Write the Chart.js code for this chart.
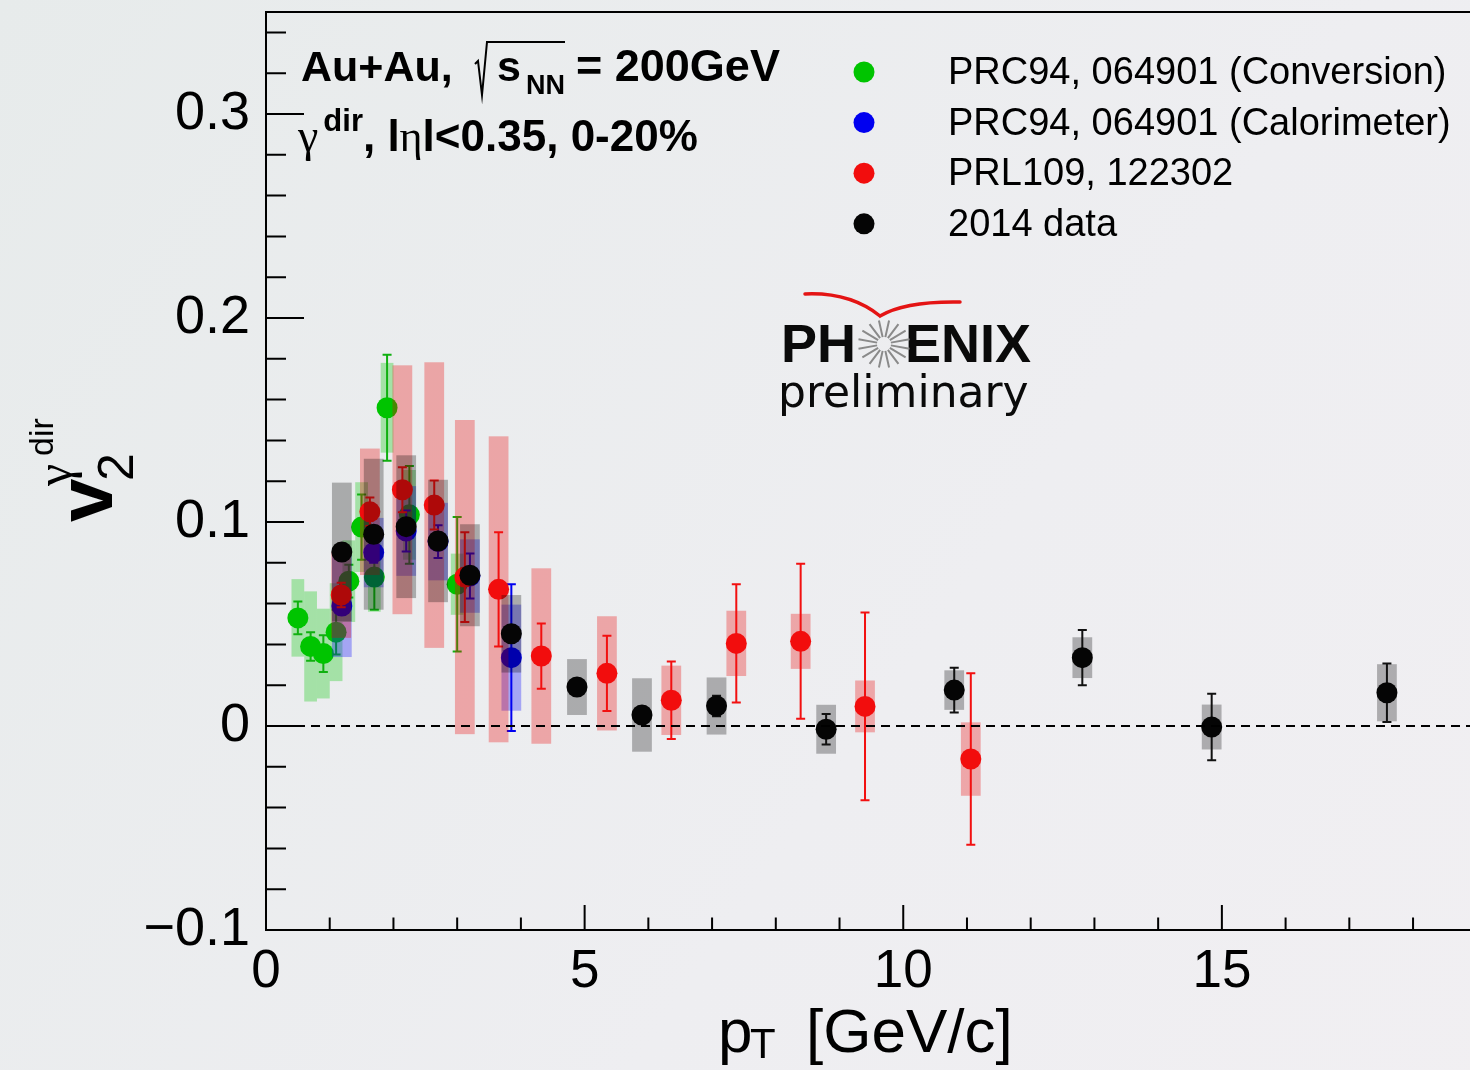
<!DOCTYPE HTML>
<html>
<head>
<meta charset="utf-8">
<script src="https://cdn.jsdelivr.net/npm/chart.js@4.4.1/dist/chart.umd.min.js"></script>
<style>
body { margin: 0; background: #eceef0; }
#wrap { width: 1470px; height: 1070px; overflow: hidden; }
</style>
</head>
<body>
<div id="wrap">
<canvas id="myChart" width="1551" height="1070"></canvas>
</div>
<script>

// direct photon v2, Au+Au 200 GeV, 0-20%
// PRC94, 064901 (Conversion)
var convPt   = [0.5, 0.7, 0.9, 1.1, 1.3, 1.5, 1.7, 1.9, 2.25, 3.0];
var convV2   = [0.053, 0.039, 0.0355, 0.046, 0.071, 0.0975, 0.073, 0.156, 0.1035, 0.0695];
var convStat = [0.008, 0.007, 0.009, 0.011, 0.008, 0.016, 0.016, 0.026, 0.024, 0.033];
var convSys  = [0.019, 0.027, 0.022, 0.024, 0.020, 0.022, 0.017, 0.022, 0.022, 0.015];

// PRC94, 064901 (Calorimeter)
var caloPt   = [1.19, 1.69, 2.2, 2.7, 3.2, 3.85];
var caloV2   = [0.0588, 0.085, 0.0956, 0.0904, 0.0735, 0.0335];
var caloStat = [0.004, 0.005, 0.010, 0.008, 0.011, 0.036];
var caloSys  = [0.025, 0.017, 0.022, 0.019, 0.018, 0.026];

// PRL109, 122302
var prlPt   = [1.18, 1.63, 2.14, 2.64, 3.12, 3.65, 4.32, 5.35, 6.36, 7.38, 8.39, 9.40, 11.06];
var prlV2   = [0.0642, 0.105, 0.1158, 0.1083, 0.073, 0.067, 0.0343, 0.0258, 0.0126, 0.0405, 0.0415, 0.0096, -0.0162];
var prlStat = [0.006, 0.007, 0.011, 0.012, 0.022, 0.028, 0.016, 0.0185, 0.019, 0.029, 0.038, 0.046, 0.042];
var prlSys  = [0.021, 0.031, 0.061, 0.070, 0.077, 0.075, 0.043, 0.028, 0.017, 0.016, 0.0135, 0.0127, 0.018];

// 2014 data
var run14Pt   = [1.19, 1.69, 2.2, 2.7, 3.2, 3.85, 4.88, 5.9, 7.07, 8.79, 10.80, 12.81, 14.84, 17.59];
var run14V2   = [0.0853, 0.094, 0.0977, 0.0907, 0.0739, 0.0452, 0.0191, 0.0054, 0.0098, -0.0016, 0.0176, 0.0335, -0.0005, 0.0163];
var run14Stat = [0.004, 0.004, 0.004, 0.004, 0.004, 0.004, 0.004, 0.004, 0.005, 0.0075, 0.011, 0.0135, 0.0163, 0.0143];
var run14Sys  = [0.034, 0.037, 0.035, 0.030, 0.025, 0.019, 0.0137, 0.018, 0.014, 0.012, 0.0097, 0.010, 0.011, 0.014];

var xTicks = [0, 5, 10, 15];
var yTicks = [-0.1, 0, 0.1, 0.2, 0.3];

function points(xs, ys, stat, sys) {
	var out = [];
	for (var i = 0; i < xs.length; i++) {
		out.push({x: xs[i], y: ys[i], stat: stat[i], sys: sys[i]});
	}
	return out;
}

var FONT = '"Liberation Sans", Arial, Helvetica, sans-serif';

// sys boxes + stat bars, drawn right before each dataset's markers
var errorPlugin = {
	id: 'errorPlugin',
	beforeDatasetDraw: function(chart, args) {
		var ds = chart.data.datasets[args.index];
		var xs = chart.scales.x, ys = chart.scales.y;
		var ctx = chart.ctx;
		ctx.save();
		ctx.fillStyle = ds.boxColor;
		ds.data.forEach(function(p) {
			var x0 = xs.getPixelForValue(p.x - ds.boxHalf);
			var x1 = xs.getPixelForValue(p.x + ds.boxHalf);
			var y0 = ys.getPixelForValue(p.y + p.sys);
			var y1 = ys.getPixelForValue(p.y - p.sys);
			ctx.fillRect(x0, y0, x1 - x0, y1 - y0);
		});
		ctx.strokeStyle = ds.barColor;
		ctx.lineWidth = 2;
		ds.data.forEach(function(p) {
			var x = xs.getPixelForValue(p.x);
			var y0 = ys.getPixelForValue(p.y + p.stat);
			var y1 = ys.getPixelForValue(p.y - p.stat);
			ctx.beginPath();
			ctx.moveTo(x, y0); ctx.lineTo(x, y1);
			ctx.moveTo(x - 4.5, y0); ctx.lineTo(x + 4.5, y0);
			ctx.moveTo(x - 4.5, y1); ctx.lineTo(x + 4.5, y1);
			ctx.stroke();
		});
		ctx.restore();
	}
};

function drawRuns(ctx, x, y, runs) {
	runs.forEach(function(r) {
		ctx.font = r.font;
		ctx.fillText(r.t, x, y + (r.dy || 0));
		x += ctx.measureText(r.t).width + (r.gap || 0);
	});
	return x;
}

var framePlugin = {
	id: 'framePlugin',
	beforeDraw: function(chart) {
		var ctx = chart.ctx;
		var g = ctx.createLinearGradient(0, 0, chart.width, chart.height);
		g.addColorStop(0, '#e7ebeb');
		g.addColorStop(0.6, '#eeeef1');
		g.addColorStop(1, '#f1eff2');
		ctx.save();
		ctx.fillStyle = g;
		ctx.fillRect(0, 0, chart.width, chart.height);
		ctx.restore();
	},
	afterDatasetsDraw: function(chart) {
		// dashed line at v2 = 0
		var ctx = chart.ctx, a = chart.chartArea;
		var y0 = chart.scales.y.getPixelForValue(0);
		ctx.save();
		ctx.strokeStyle = '#000';
		ctx.lineWidth = 2;
		ctx.setLineDash([9, 6]);
		ctx.beginPath();
		ctx.moveTo(a.left, y0); ctx.lineTo(a.right, y0);
		ctx.stroke();
		ctx.restore();
	},
	afterDraw: function(chart) {
		var ctx = chart.ctx, a = chart.chartArea;
		var xs = chart.scales.x, ys = chart.scales.y;
		ctx.save();
		ctx.strokeStyle = '#000';
		ctx.lineWidth = 2;
		ctx.strokeRect(a.left, a.top, a.right - a.left, a.bottom - a.top);

		// ticks inside the frame
		ctx.beginPath();
		for (var v = 0; v <= 20; v++) {
			var px = xs.getPixelForValue(v);
			var len = (v % 5 === 0) ? 25 : 12.5;
			ctx.moveTo(px, a.bottom); ctx.lineTo(px, a.bottom - len);
		}
		for (var k = -5; k <= 17; k++) {
			var py = ys.getPixelForValue(k * 0.02);
			var ylen = (k % 5 === 0) ? 38 : 20;
			ctx.moveTo(a.left, py); ctx.lineTo(a.left + ylen, py);
		}
		ctx.stroke();

		ctx.fillStyle = '#000';
		ctx.textBaseline = 'alphabetic';
		ctx.textAlign = 'left';

		// axis titles
		ctx.font = '62px ' + FONT;
		ctx.fillText('p', 718, 1052);
		ctx.font = '42px ' + FONT;
		ctx.fillText('T', 750, 1058);
		ctx.font = '62px ' + FONT;
		ctx.fillText('[GeV/c]', 806, 1052);

		ctx.save();
		ctx.translate(112, 522);
		ctx.rotate(-Math.PI / 2);
		ctx.font = 'bold 78px ' + FONT;
		ctx.fillText('v', 0, 0);
		ctx.font = '50px ' + FONT;
		ctx.fillText('2', 41, 21);
		ctx.font = '50px "Liberation Serif", serif';
		ctx.fillText('\u03b3', 36, -41);
		ctx.font = '34px ' + FONT;
		ctx.fillText('dir', 66, -59);
		ctx.restore();

		// system label
		ctx.font = 'bold 43px ' + FONT;
		ctx.fillText('Au+Au,', 301, 81);
		ctx.lineWidth = 2;
		ctx.beginPath();
		ctx.moveTo(475, 64); ctx.lineTo(478, 61);
		ctx.lineTo(482, 95); ctx.lineTo(487, 42); ctx.lineTo(565, 42);
		ctx.stroke();
		ctx.font = 'bold 43px ' + FONT;
		ctx.fillText('s', 497, 81);
		ctx.font = 'bold 27px ' + FONT;
		ctx.fillText('NN', 526, 94);
		ctx.font = 'bold 45px ' + FONT;
		ctx.fillText('= 200GeV', 576, 81);

		drawRuns(ctx, 298, 151, [
			{t: '\u03b3', font: '46px "Liberation Serif", serif', gap: 5},
			{t: 'dir', font: 'bold 31px ' + FONT, dy: -20},
			{t: ', l', font: 'bold 44px ' + FONT},
			{t: '\u03b7', font: '44px "Liberation Serif", serif'},
			{t: 'l<0.35, 0-20%', font: 'bold 44px ' + FONT}
		]);

		// legend
		chart.data.datasets.forEach(function(ds, i) {
			var ly = 72 + i * 50.6;
			ctx.fillStyle = ds.pointBackgroundColor;
			ctx.beginPath();
			ctx.arc(864, ly, 10.5, 0, Math.PI * 2);
			ctx.fill();
			ctx.fillStyle = '#000';
			ctx.font = '38px ' + FONT;
			ctx.fillText(ds.label, 948, ly + 12);
		});

		// PHENIX preliminary tag
		ctx.strokeStyle = '#e41414';
		ctx.lineWidth = 3.5;
		ctx.lineCap = 'round';
		ctx.beginPath();
		ctx.moveTo(805, 294);
		ctx.quadraticCurveTo(850, 292, 880, 316);
		ctx.quadraticCurveTo(905, 301, 960, 302);
		ctx.stroke();
		ctx.font = 'bold 54px ' + FONT;
		ctx.fillStyle = '#0a0a0a';
		ctx.fillText('PH', 781, 362);
		ctx.fillText('ENIX', 905, 362);
		ctx.strokeStyle = '#8a8a8a';
		ctx.lineWidth = 2;
		ctx.lineCap = 'butt';
		ctx.beginPath();
		for (var s = 0; s < 16; s++) {
			var ang = s * Math.PI / 8 + Math.PI / 16;
			ctx.moveTo(884 + 7 * Math.cos(ang), 344 + 7 * Math.sin(ang));
			ctx.lineTo(884 + 26 * Math.cos(ang), 344 + 24 * Math.sin(ang));
		}
		ctx.stroke();
		ctx.font = '44px "DejaVu Sans", sans-serif';
		ctx.fillText('preliminary', 778, 407);
		ctx.restore();
	}
};

var ctx = document.getElementById("myChart").getContext("2d");
var myChart = new Chart(ctx, {
	type: 'scatter',
	data: {
		datasets: [
			{
				label: 'PRC94, 064901 (Conversion)',
				data: points(convPt, convV2, convStat, convSys),
				pointBackgroundColor: '#00c400',
				barColor: '#10b010',
				boxColor: 'rgba(0, 200, 0, 0.3)',
				boxHalf: 0.1,
				order: 4
			},
			{
				label: 'PRC94, 064901 (Calorimeter)',
				data: points(caloPt, caloV2, caloStat, caloSys),
				pointBackgroundColor: '#0000f0',
				barColor: '#0000f0',
				boxColor: 'rgba(0, 0, 255, 0.3)',
				boxHalf: 0.155,
				order: 3
			},
			{
				label: 'PRL109, 122302',
				data: points(prlPt, prlV2, prlStat, prlSys),
				pointBackgroundColor: '#f20d0d',
				barColor: '#f21010',
				boxColor: 'rgba(235, 0, 0, 0.3)',
				boxHalf: 0.155,
				order: 2
			},
			{
				label: '2014 data',
				data: points(run14Pt, run14V2, run14Stat, run14Sys),
				pointBackgroundColor: '#050505',
				barColor: '#111111',
				boxColor: 'rgba(0, 0, 0, 0.28)',
				boxHalf: 0.155,
				order: 1
			}
		]
	},
	options: {
		responsive: false,
		animation: false,
		events: [],
		devicePixelRatio: 1,
		layout: {padding: {top: 12, right: 0, left: 0, bottom: 0}},
		elements: {point: {radius: 10.5, borderWidth: 0, hoverRadius: 10.5}},
		plugins: {legend: {display: false}, tooltip: {enabled: false}},
		scales: {
			x: {
				type: 'linear', min: 0, max: 20,
				grid: {display: false, drawTicks: false},
				border: {display: false},
				afterBuildTicks: function(scale) {
					scale.ticks = xTicks.map(function(v) { return {value: v}; });
				},
				afterFit: function(scale) {
					scale.height = 140;
					scale.paddingLeft = 0; scale.paddingRight = 0;
				},
				ticks: {
					color: '#000', padding: 11, maxRotation: 0, autoSkip: false,
					font: {family: FONT, size: 53},
					callback: function(v) { return String(v); }
				}
			},
			y: {
				type: 'linear', min: -0.1, max: 0.35,
				grid: {display: false, drawTicks: false},
				border: {display: false},
				afterBuildTicks: function(scale) {
					scale.ticks = yTicks.map(function(v) { return {value: v}; });
				},
				afterFit: function(scale) {
					scale.width = 266;
					scale.paddingTop = 0; scale.paddingBottom = 0;
				},
				ticks: {
					color: '#000', padding: 16, autoSkip: false,
					font: {family: FONT, size: 54},
					callback: function(v) {
						if (Math.abs(v) < 1e-9) return '0';
						return (v < 0 ? '\u2212' : '') + Math.abs(v).toFixed(1);
					}
				}
			}
		}
	},
	plugins: [errorPlugin, framePlugin]
});

</script>
</body>
</html>
